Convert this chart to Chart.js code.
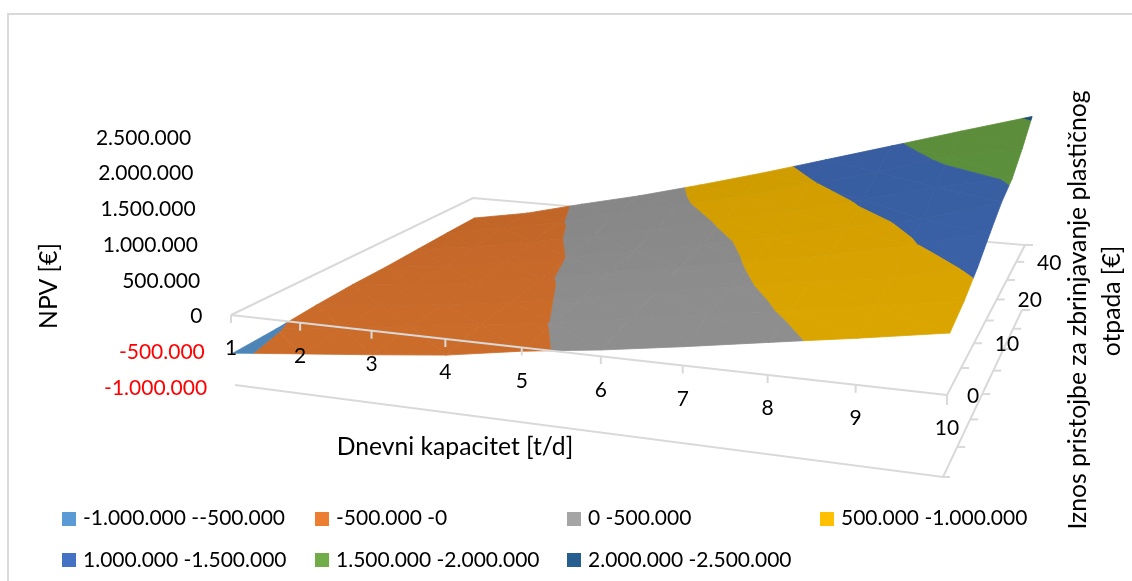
<!DOCTYPE html>
<html>
<head>
<meta charset="utf-8">
<style>html,body{margin:0;padding:0;background:#fff}canvas{display:block}</style>
<script src="https://cdn.jsdelivr.net/npm/chart.js@4"></script>
</head>
<body>
<canvas id="c" width="1132" height="581"></canvas>
<script>
// ---- data ----
const capacities = [1,2,3,4,5,6,7,8,9,10];
const feeSteps = [0,5,10,15,20,30,40,50];
const feeLabels = ["0","","10","","20","","40",""];
const npvFee0  = [-530000,-430000,-330000,-220000,-50000,85000,250000,430000,610000,805000];
const npvFee5  = [-510000,-400000,-260000,-120000,10000,180000,370000,530000,710000,900000];
const npvFee10 = [-470000,-370000,-250000,-100000,70000,260000,450000,630000,790000,1050000];
const npvFee15 = [-445000,-350000,-210000,-40000,160000,340000,530000,730000,970000,1250000];
const npvFee20 = [-440000,-330000,-180000,10000,210000,410000,620000,880000,1080000,1430000];
const npvFee30 = [-420000,-280000,-100000,100000,310000,540000,760000,1040000,1320000,1530000];
const npvFee40 = [-400000,-220000,-30000,240000,460000,680000,970000,1240000,1580000,1760000];
const npvFee50 = [-385000,-200000,55000,295000,566000,850000,1150000,1450000,1750000,2040000];
const npvRows = [npvFee0,npvFee5,npvFee10,npvFee15,npvFee20,npvFee30,npvFee40,npvFee50];
const npvTicks = [2500000,2000000,1500000,1000000,500000,0,-500000,-1000000];
const npvTickLabels = ["2.500.000","2.000.000","1.500.000","1.000.000","500.000","0","-500.000","-1.000.000"];
const bandEdges = [-1000000,-500000,0,500000,1000000,1500000,2000000,2500000];
const bandLabels = ["-1.000.000 --500.000","-500.000 -0","0 -500.000","500.000 -1.000.000","1.000.000 -1.500.000","1.500.000 -2.000.000","2.000.000 -2.500.000"];
const bandColors = ["#5B9BD5","#ED7D31","#A5A5A5","#FFC000","#4472C4","#70AD47","#255E91"];

// ---- projection of (capacity index, fee index, NPV) on to the page ----
const FL={x:231,y:315}, FR={x:947,y:395}, BL={x:473,y:198}, BR={x:1025,y:245};
const S00=72,S10=77,S01=52,S11=63;
const lerp=(a,b,t)=>a+(b-a)*t;
const persp=(t,r)=>t/(t+(1-t)*r);
function project(i,j,z){
  const f=persp(i/(capacities.length-1),1.17), g=persp(j/(feeSteps.length-1),0.76);
  const lx=lerp(FL.x,BL.x,g), ly=lerp(FL.y,BL.y,g), rx=lerp(FR.x,BR.x,g), ry=lerp(FR.y,BR.y,g);
  const s=lerp(lerp(S00,S10,f),lerp(S01,S11,f),g), m=z/1e6;
  return {x:lerp(lx,rx,f)+3.5*Math.abs(m), y:lerp(ly,ry,f)-m*s};
}
function clip(poly,limit,above){
  const out=[];
  for(let k=0;k<poly.length;k++){
    const a=poly[k], b=poly[(k+1)%poly.length];
    const ina=above?a[2]>=limit:a[2]<=limit, inb=above?b[2]>=limit:b[2]<=limit;
    if(ina) out.push(a);
    if(ina!==inb){const t=(limit-a[2])/(b[2]-a[2]); out.push([lerp(a[0],b[0],t),lerp(a[1],b[1],t),limit]);}
  }
  return out;
}
function shade(hex,factor){
  const n=parseInt(hex.slice(1),16);
  return `rgb(${Math.round((n>>16&255)*factor)},${Math.round((n>>8&255)*factor)},${Math.round((n&255)*factor)})`;
}
const lineDs=(pts,w=2)=>({type:'scatter',data:pts,showLine:true,borderColor:'#D9D9D9',borderWidth:w,pointRadius:0,fill:false,tension:0,label:'axis'});
const lastCap=capacities.length-1, lastFee=feeSteps.length-1;

// front axis line and ticks lie over the surface
const frontSets=[lineDs([project(0,0,0),project(lastCap,0,0)])];
capacities.forEach((c,i)=>{const p=project(i,0,0);frontSets.push(lineDs([p,{x:p.x,y:p.y+8}]));});

// surface pieces: every mesh triangle is cut by the colour bands
const surfaceSets=[];
for(let j=lastFee-1;j>=0;j--){
  for(let i=0;i<lastCap;i++){
    const a=[i,j,npvRows[j][i]],b=[i+1,j,npvRows[j][i+1]],c=[i+1,j+1,npvRows[j+1][i+1]],d=[i,j+1,npvRows[j+1][i]];
    [[a,b,d],[b,c,d]].forEach(tri=>{
      bandColors.forEach((col,k)=>{
        let p=clip(tri,bandEdges[k],true); if(p.length) p=clip(p,bandEdges[k+1],false);
        if(p.length<3) return;
        const pts=p.map(v=>project(v[0],v[1],v[2]));
        pts.push(pts[0]);
        const colour=shade(col,0.86-0.05*(j/lastFee));
        surfaceSets.push({type:'scatter',label:bandLabels[k],data:pts,showLine:true,tension:0,pointRadius:0,borderColor:colour,borderWidth:0.8,backgroundColor:colour,fill:'shape'});
      });
    });
  }
}

// remaining frame lines sit behind the surface
const lowerDrop=[{x:235,y:385},{x:943,y:477}];
const lowerBack={x:1022,y:310};
const backSets=[
  lineDs([project(0,0,0),project(0,lastFee,0),project(lastCap,lastFee,0),project(lastCap,0,0)]),
  lineDs([project(lastCap,lastFee,0),{x:project(lastCap,lastFee,0).x+8,y:project(lastCap,lastFee,0).y}]),
  lineDs([project(lastCap,0,0),{x:project(lastCap,0,0).x,y:project(lastCap,0,0).y+10}]),
  lineDs([project(0,0,0),{x:project(0,0,0).x,y:project(0,0,0).y+8}]),
  lineDs([lowerDrop[0],lowerDrop[1],lowerBack]),
  lineDs([lowerDrop[1],{x:lowerDrop[1].x+7,y:lowerDrop[1].y}])
];
feeSteps.forEach((v,j)=>{
  if(j>0&&j<lastFee){const p=project(lastCap,j,0);backSets.push(lineDs([p,{x:p.x+8,y:p.y}]));}
  const t=persp(j/lastFee,0.76);
  const q={x:lerp(lowerDrop[1].x,lowerBack.x,t),y:lerp(lowerDrop[1].y,lowerBack.y,t)};
  if(j>0) backSets.push(lineDs([q,{x:q.x+8,y:q.y}]));
});

const FONT='Lato, Carlito, sans-serif';
const textPlugin={
  id:'texts',
  afterDraw(chart){
    const ctx=chart.ctx, zs=chart.scales.z;
    ctx.save();
    // chart border
    ctx.strokeStyle='#D9D9D9';ctx.lineWidth=2;
    ctx.beginPath();ctx.moveTo(8,581);ctx.lineTo(8,14);ctx.lineTo(1132,14);ctx.stroke();
    ctx.textBaseline='middle';
    ctx.font=`21px ${FONT}`;
    // NPV axis
    ctx.textAlign='right';
    npvTicks.forEach((v,k)=>{
      const y=zs.getPixelForValue(v);
      ctx.fillStyle=v<0?'#FF0000':'#000000';
      ctx.fillText(npvTickLabels[k],191+(y-137)*0.064,y);
    });
    ctx.fillStyle='#000000';
    ctx.textAlign='center';
    // capacity axis
    capacities.forEach((c,i)=>{const p=project(i,0,0);ctx.fillText(String(c),p.x,p.y+33.5);});
    // fee axis
    feeLabels.forEach((l,j)=>{if(!l)return;const p=project(lastCap,j,0);ctx.fillText(l,p.x+(j===0?26:33),p.y+1);});
    // titles
    ctx.font=`24.7px ${FONT}`;
    ctx.fillText('Dnevni kapacitet [t/d]',455,447);
    const rot=(t,x,y)=>{ctx.save();ctx.translate(x,y);ctx.rotate(-Math.PI/2);ctx.fillText(t,0,0);ctx.restore();};
    rot('NPV [€]',49,286);
    rot('Iznos pristojbe za zbrinjavanje plastičnog',1078,310);
    rot('otpada [€]',1112,301);
    // legend
    ctx.font=`21px ${FONT}`;
    const lx=[62,315,567,820], ly=[518,560], sy=[512,553];
    ctx.textAlign='left';
    bandLabels.forEach((l,k)=>{
      const row=k<4?0:1, x=lx[k%4];
      ctx.fillStyle=bandColors[k];ctx.fillRect(x,sy[row],14,14);
      ctx.fillStyle='#000000';ctx.fillText(l,x+21,ly[row]);
    });
    ctx.restore();
  }
};
const zPerHalfMillion=35.7, zZero=316.5;
new Chart(document.getElementById('c'),{
  type:'scatter',
  data:{datasets:[...frontSets,...surfaceSets,...backSets]},
  options:{
    responsive:false,animation:false,events:[],
    layout:{padding:0},
    plugins:{legend:{display:false},tooltip:{enabled:false}},
    scales:{
      x:{type:'linear',min:0,max:1132,display:false},
      y:{type:'linear',min:0,max:581,reverse:true,display:false},
      z:{type:'linear',display:false,position:'left',
         min:-(581-zZero)/zPerHalfMillion*500000,max:zZero/zPerHalfMillion*500000}
    }
  },
  plugins:[textPlugin]
});
</script>
</body>
</html>
